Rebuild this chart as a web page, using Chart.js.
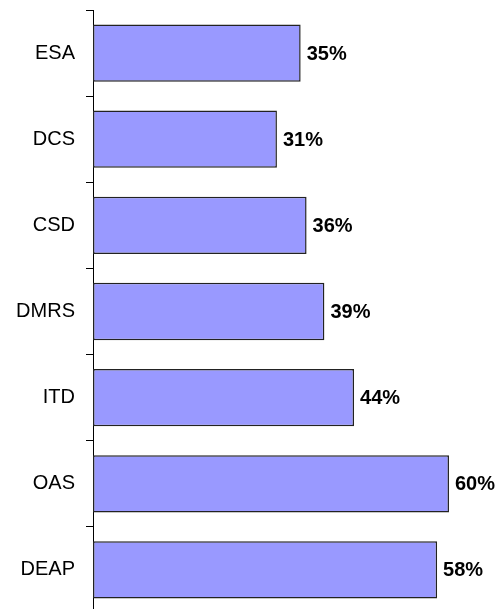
<!DOCTYPE html>
<html>
<head>
<meta charset="utf-8">
<script src="https://cdn.jsdelivr.net/npm/chart.js@4/dist/chart.umd.min.js"></script>
<style>
  html, body { margin: 0; padding: 0; background: #fff; overflow: hidden; }
  #wrap { width: 500px; height: 613px; position: relative; }
</style>
</head>
<body>
<div id="wrap"><canvas id="myChart"></canvas></div>
<script>
const categories = ['ESA', 'DCS', 'CSD', 'DMRS', 'ITD', 'OAS', 'DEAP'];
const values = [35, 31, 36, 39, 44, 60, 58];

// value labels at the end of each bar
const barLabels = {
    id: 'barLabels',
    afterDatasetsDraw(chart) {
        const c = chart.ctx;
        const meta = chart.getDatasetMeta(0);
        c.save();
        c.font = 'bold 20px "Liberation Sans", Arial, sans-serif';
        c.fillStyle = '#000';
        c.textAlign = 'left';
        c.textBaseline = 'middle';
        meta.data.forEach((bar, i) => {
            c.fillText(values[i] + '%', bar.x + 6, bar.y + 1);
        });
        c.restore();
    }
};

let ctx = document.getElementById('myChart');
let myChart = new Chart(ctx, {
    type: 'bar',
    data: {
        labels: categories,
        datasets: [{
            data: values,
            backgroundColor: '#9999FF',
            borderColor: '#222',
            borderWidth: 1.5,
            borderSkipped: false,
            categoryPercentage: 1,
            barPercentage: 0.665
        }]
    },
    options: {
        indexAxis: 'y',
        responsive: true,
        maintainAspectRatio: false,
        animation: false,
        layout: { padding: { top: 10, right: 0, bottom: 0, left: 0 } },
        scales: {
            x: {
                display: false,
                min: 0,
                max: 68.6
            },
            y: {
                afterFit(scale) {
                    scale.width = 93;
                    // no extra room above/below for the edge labels
                    scale.paddingTop = 0;
                    scale.paddingBottom = 0;
                },
                ticks: {
                    color: '#000',
                    padding: 11,
                    font: { family: '"Liberation Sans", Arial, sans-serif', size: 20 }
                },
                grid: {
                    offset: true,
                    drawOnChartArea: false,
                    drawTicks: true,
                    tickLength: 7,
                    color: '#000',
                    lineWidth: 1
                },
                border: { display: true, color: '#000', width: 1 }
            }
        },
        plugins: {
            legend: { display: false },
            tooltip: { enabled: false }
        }
    },
    plugins: [barLabels]
});
</script>
</body>
</html>
